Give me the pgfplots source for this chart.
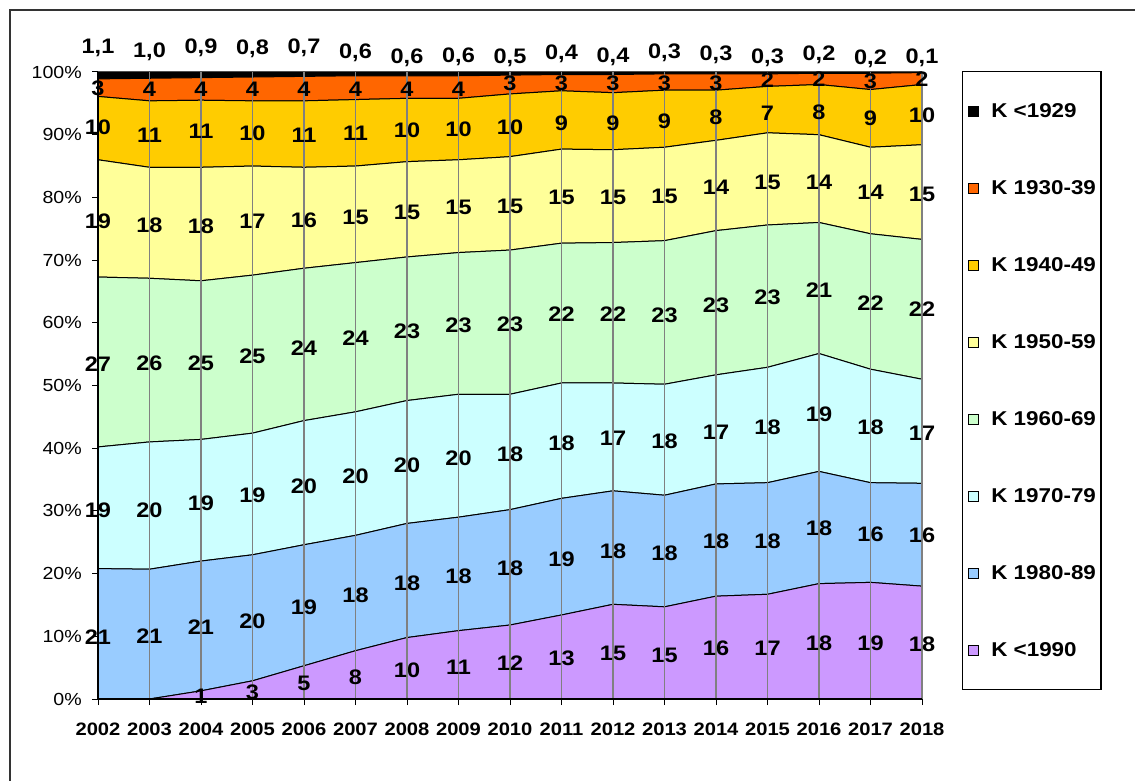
\documentclass[border=0pt]{standalone}
\usepackage{fontspec}
\setmainfont{Liberation Sans}[FakeStretch=1.12]
\usepackage{pgfplots}
\pgfplotsset{compat=1.18}
\usepackage{pgfplotstable}

\definecolor{cK}{HTML}{000000}
\definecolor{cO}{HTML}{FF6600}
\definecolor{cG}{HTML}{FFCC00}
\definecolor{cY}{HTML}{FFFF99}
\definecolor{cGr}{HTML}{CCFFCC}
\definecolor{cC}{HTML}{CCFFFF}
\definecolor{cB}{HTML}{99CCFF}
\definecolor{cP}{HTML}{CC99FF}
\definecolor{gridgray}{HTML}{808080}

\pgfplotstableread{
year p b c g y go o k
2002 0 20.8 19.4 27.1 18.7 10.1 2.8 1.1
2003 0 20.7 20.3 26.1 17.7 10.6 3.6 1.0
2004 1.3 20.7 19.4 25.3 18.1 10.7 3.6 0.9
2005 2.9 20.1 19.4 25.2 17.4 10.4 3.8 0.8
2006 5.3 19.3 19.8 24.3 16.1 10.6 3.9 0.7
2007 7.7 18.4 19.7 23.8 15.4 10.6 3.8 0.6
2008 9.8 18.2 19.6 22.9 15.2 10.1 3.6 0.6
2009 10.9 18.1 19.6 22.6 14.8 9.8 3.6 0.6
2010 11.8 18.4 18.4 23.0 14.9 10.0 3.0 0.5
2011 13.4 18.6 18.4 22.3 15.0 9.3 2.6 0.4
2012 15.1 18.1 17.2 22.4 14.8 9.1 2.9 0.4
2013 14.7 17.8 17.7 22.9 14.9 9.1 2.6 0.3
2014 16.4 17.9 17.4 23.0 14.4 8.0 2.6 0.3
2015 16.7 17.8 18.4 22.7 14.7 7.4 2.0 0.3
2016 18.4 17.9 18.8 20.9 14.0 8.0 1.8 0.2
2017 18.6 15.9 18.1 21.6 13.8 9.2 2.6 0.2
2018 18.0 16.4 16.6 22.3 15.1 9.6 1.9 0.1
}\data

% label positions: x = year, py = pixel row of label centre, lab = text
\pgfplotstableread{
x py lab
2002 48 1,1
2003 52 1,0
2004 48 0,9
2005 49 0,8
2006 48 0,7
2007 53 0,6
2008 58 0,6
2009 57 0,6
2010 58 0,5
2011 54 0,4
2012 57 0,4
2013 53 0,3
2014 55 0,3
2015 58 0,3
2016 55 0,2
2017 59 0,2
2018 58 0,1
2002 88 3
2003 89 4
2004 89 4
2005 89 4
2006 89 4
2007 89 4
2008 89 4
2009 89 4
2010 83 3
2011 83 3
2012 83 3
2013 83 3
2014 83 3
2015 80 2
2016 79 2
2017 81 3
2018 79 2
2002 127 10
2003 135 11
2004 131 11
2005 133 10
2006 135 11
2007 133 11
2008 130 10
2009 129 10
2010 127 10
2011 123 9
2012 123 9
2013 121 9
2014 117 8
2015 113 7
2016 112 8
2017 118 9
2018 115 10
2002 221 19
2003 225 18
2004 226 18
2005 221 17
2006 220 16
2007 217 15
2008 212 15
2009 207 15
2010 206 15
2011 197 15
2012 197 15
2013 196 15
2014 187 14
2015 182 15
2016 182 14
2017 192 14
2018 194 15
2002 364 27
2003 363 26
2004 363 25
2005 356 25
2006 348 24
2007 338 24
2008 331 23
2009 325 23
2010 324 23
2011 314 22
2012 314 22
2013 315 23
2014 305 23
2015 297 23
2016 290 21
2017 303 22
2018 309 22
2002 510 19
2003 510 20
2004 503 19
2005 495 19
2006 486 20
2007 476 20
2008 465 20
2009 458 20
2010 454 18
2011 443 18
2012 438 17
2013 441 18
2014 432 17
2015 427 18
2016 414 19
2017 427 18
2018 433 17
2002 637 21
2003 636 21
2004 627 21
2005 621 20
2006 607 19
2007 595 18
2008 583 18
2009 576 18
2010 568 18
2011 559 19
2012 551 18
2013 553 18
2014 541 18
2015 541 18
2016 528 18
2017 534 16
2018 535 16
2004 696 1
2005 692 3
2006 683 5
2007 677 8
2008 670 10
2009 667 11
2010 663 12
2011 658 13
2012 653 15
2013 655 15
2014 648 16
2015 648 17
2016 643 18
2017 643 19
2018 644 18
}\labels

\begin{document}
\begin{tikzpicture}
\useasboundingbox (0pt,0pt) rectangle (1135pt,780pt);
\draw[line width=1.5pt, black!80] (10pt,-20pt) -- (10pt,770pt) -- (1160pt,770pt);

\begin{axis}[
  at={(98pt,81pt)}, anchor=south west,
  scale only axis, width=824pt, height=627pt,
  xmin=2002, xmax=2018, ymin=0, ymax=100,
  stack plots=y,
  axis on top,
  axis x line*=bottom, axis y line*=left,
  axis line style={-, line width=1.3pt, black},
  xtick={2002,2003,2004,2005,2006,2007,2008,2009,2010,2011,2012,2013,2014,2015,2016,2017,2018},
  xticklabels={2002,2003,2004,2005,2006,2007,2008,2009,2010,2011,2012,2013,2014,2015,2016,2017,2018},
  ytick={0,10,20,30,40,50,60,70,80,90,100},
  yticklabels={0\%,10\%,20\%,30\%,40\%,50\%,60\%,70\%,80\%,90\%,100\%},
  xmajorgrids,
  grid style={draw=gridgray, line width=1.5pt},
  tick align=outside, major tick length=6pt,
  tick style={black, line width=1pt},
  xticklabel style={font=\bfseries\fontsize{18}{20}\selectfont, anchor=center, inner sep=0pt, yshift=-24.5pt},
  yticklabel style={font=\fontsize{17.5}{20}\selectfont, anchor=east, inner sep=0pt, xshift=-10pt},
  reverse legend,
  legend image code/.code={\draw[#1, draw=black, line width=0.8pt] (0pt,-5pt) rectangle (10pt,5pt);},
  legend style={at={(1.0485,1.0016)}, anchor=north west, draw=black, line width=1.2pt,
    inner xsep=5pt, inner ysep=1pt, row sep=0pt,
    font=\bfseries\fontsize{20}{22}\selectfont,
    nodes={inner sep=0pt, minimum height=77pt, anchor=west},
    /tikz/every odd column/.append style={column sep=13pt}},
  legend cell align=left,
]
\addplot[fill=cP, draw=black, line width=1pt] table[x=year, y=p] {\data} \closedcycle;
\addlegendentry{K <1990}
\addplot[fill=cB, draw=black, line width=1pt] table[x=year, y=b] {\data} \closedcycle;
\addlegendentry{K 1980-89}
\addplot[fill=cC, draw=black, line width=1pt] table[x=year, y=c] {\data} \closedcycle;
\addlegendentry{K 1970-79}
\addplot[fill=cGr, draw=black, line width=1pt] table[x=year, y=g] {\data} \closedcycle;
\addlegendentry{K 1960-69}
\addplot[fill=cY, draw=black, line width=1pt] table[x=year, y=y] {\data} \closedcycle;
\addlegendentry{K 1950-59}
\addplot[fill=cG, draw=black, line width=1pt] table[x=year, y=go] {\data} \closedcycle;
\addlegendentry{K 1940-49}
\addplot[fill=cO, draw=black, line width=1pt] table[x=year, y=o] {\data} \closedcycle;
\addlegendentry{K 1930-39}
\addplot[fill=cK, draw=black, line width=1pt] table[x=year, y=k] {\data} \closedcycle;
\addlegendentry{K <1929}
\end{axis}

\begin{axis}[
  at={(98pt,81pt)}, anchor=south west,
  scale only axis, width=824pt, height=627pt,
  xmin=2002, xmax=2018, ymin=0, ymax=100,
  hide axis, clip=false,
]
\addplot[draw=none, mark=none, nodes near coords, point meta=explicit symbolic,
  every node near coord/.append style={anchor=center, inner sep=0pt, text=black,
    font=\bfseries\fontsize{21}{24}\selectfont}]
  table[x=x, y expr={(699-\thisrow{py})/6.27}, meta=lab] {\labels};
\end{axis}
\end{tikzpicture}
\end{document}
